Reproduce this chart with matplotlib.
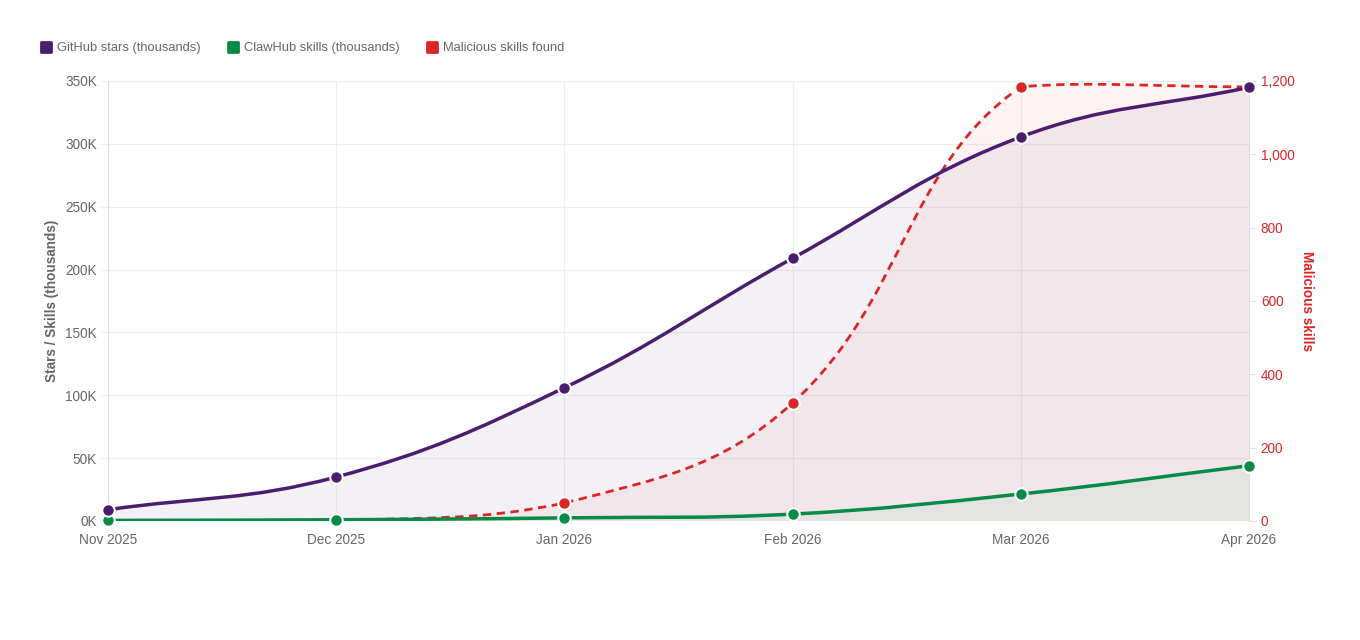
import numpy as np
import matplotlib.pyplot as plt
from matplotlib.path import Path
from matplotlib.patches import PathPatch
from matplotlib.lines import Line2D
from matplotlib.markers import MarkerStyle

plt.rcParams['font.family'] = ['Liberation Sans', 'DejaVu Sans']

months = ['Nov 2025', 'Dec 2025', 'Jan 2026', 'Feb 2026', 'Mar 2026', 'Apr 2026']
github_stars = [9, 35, 106, 209, 305.5, 345]      # thousands
clawhub_skills = [0.5, 1, 2.5, 5.5, 21.5, 44]     # thousands
malicious = [0, 1, 49, 322, 1184, 1184]

PURPLE = '#4c1d6f'
GREEN = '#078a44'
RED = '#dc2626'
GRAY = '#666666'


def spline_path(ax, xs, ys, tension=0.4, closed_base=None):
    # chart.js style spline, control points computed in pixel space
    pts = ax.transData.transform(np.column_stack([xs, ys]))
    bb = ax.bbox
    n = len(pts)
    cps = []
    for i in range(n):
        prev = pts[max(i - 1, 0)]
        cur = pts[i]
        nxt = pts[min(i + 1, n - 1)]
        d01 = np.hypot(*(cur - prev))
        d12 = np.hypot(*(nxt - cur))
        tot = d01 + d12
        s01 = d01 / tot if tot else 0
        s12 = d12 / tot if tot else 0
        cp_prev = cur - tension * s01 * (nxt - prev)
        cp_next = cur + tension * s12 * (nxt - prev)
        for cp in (cp_prev, cp_next):
            cp[0] = min(max(cp[0], bb.x0), bb.x1)
            cp[1] = min(max(cp[1], bb.y0), bb.y1)
        cps.append((cp_prev, cp_next))
    verts = [pts[0]]
    codes = [Path.MOVETO]
    for i in range(n - 1):
        verts += [cps[i][1], cps[i + 1][0], pts[i + 1]]
        codes += [Path.CURVE4] * 3
    if closed_base is not None:
        base = ax.transData.transform([[xs[-1], closed_base], [xs[0], closed_base]])
        verts += [base[0], base[1], pts[0]]
        codes += [Path.LINETO, Path.LINETO, Path.CLOSEPOLY]
    verts = ax.transData.inverted().transform(np.array(verts))
    return Path(verts, codes)


fig = plt.figure(figsize=(13.6, 6.4), dpi=100)
ax = fig.add_axes([108 / 1360, 1 - 521 / 640, (1249 - 108) / 1360, 440 / 640])
ax2 = ax.twinx()

x = np.arange(len(months))
ax.set_xlim(0, len(months) - 1)
ax.set_ylim(0, 350)
ax2.set_ylim(0, 1200)

scale = 1200 / 350
stars_r = [v * scale for v in github_stars]
claw_r = [v * scale for v in clawhub_skills]

# fills
ax2.add_patch(PathPatch(spline_path(ax2, x, malicious, closed_base=0),
                        facecolor=RED, alpha=0.05, edgecolor='none', zorder=1))
ax2.add_patch(PathPatch(spline_path(ax2, x, stars_r, closed_base=0),
                        facecolor=PURPLE, alpha=0.06, edgecolor='none', zorder=1.5))
ax2.add_patch(PathPatch(spline_path(ax2, x, claw_r, closed_base=0),
                        facecolor='#e3e3e1', edgecolor='none', zorder=2))

# lines
ax2.add_patch(PathPatch(spline_path(ax2, x, malicious), facecolor='none',
                        edgecolor=RED, lw=2, ls=(0, (3, 2)), zorder=3))
ax2.plot(x, malicious, 'o', color=RED, ms=9, mec='white', mew=1.5, zorder=4, clip_on=False)
ax2.add_patch(PathPatch(spline_path(ax2, x, claw_r), facecolor='none',
                        edgecolor=GREEN, lw=2.5, zorder=5))
ax2.plot(x, claw_r, 'o', color=GREEN, ms=9, mec='white', mew=1.5, zorder=6, clip_on=False)
ax2.add_patch(PathPatch(spline_path(ax2, x, stars_r), facecolor='none',
                        edgecolor=PURPLE, lw=2.5, zorder=7))
ax2.plot(x, stars_r, 'o', color=PURPLE, ms=9, mec='white', mew=1.5, zorder=8, clip_on=False)

# axes styling
ax.set_xticks(x)
ax.set_xticklabels(months, va='baseline')
ax.set_yticks(np.arange(0, 351, 50))
ax.set_yticklabels([f'{v}K' for v in range(0, 351, 50)])
ax2.set_yticks(np.arange(0, 1201, 200))
ax2.set_yticklabels([f'{v:,}' for v in range(0, 1201, 200)])

ax.grid(True, color='#eeeeee', lw=0.8)
ax.set_axisbelow(True)
for a in (ax, ax2):
    for s in a.spines.values():
        s.set_visible(False)
ax.spines['left'].set_visible(True)
ax.spines['left'].set_color('#dddddd')
ax2.spines['right'].set_visible(True)
ax2.spines['right'].set_color('#dddddd')

ax.tick_params(axis='x', length=0, pad=16.5, labelsize=9.8, labelcolor=GRAY)
ax.tick_params(axis='y', length=5, color='#eeeeee', pad=3, labelsize=9.8, labelcolor=GRAY)
ax2.tick_params(axis='y', length=5, color='#e5e5e5', pad=3.5, labelsize=9.8, labelcolor=RED)

ax.set_ylabel('Stars / Skills (thousands)', fontsize=9.8, fontweight='bold',
              color=GRAY, labelpad=4)
ax2.set_ylabel('Malicious skills', fontsize=9.8, fontweight='bold', color=RED,
               rotation=270, labelpad=14)

handles = [Line2D([], [], ls='none', marker=MarkerStyle('s', joinstyle='round'),
                  ms=6.6, mew=2, color=c, mec=c)
           for c in (PURPLE, GREEN, RED)]
fig.legend(handles, ['GitHub stars (thousands)', 'ClawHub skills (thousands)',
                     'Malicious skills found'],
           loc='center left', bbox_to_anchor=(29 / 1360, 1 - 48 / 640), ncol=3,
           frameon=False, fontsize=9.3, labelcolor=GRAY, handlelength=0.8,
           handletextpad=0.45, columnspacing=2.12)

fig.savefig('out.png', dpi=100)
